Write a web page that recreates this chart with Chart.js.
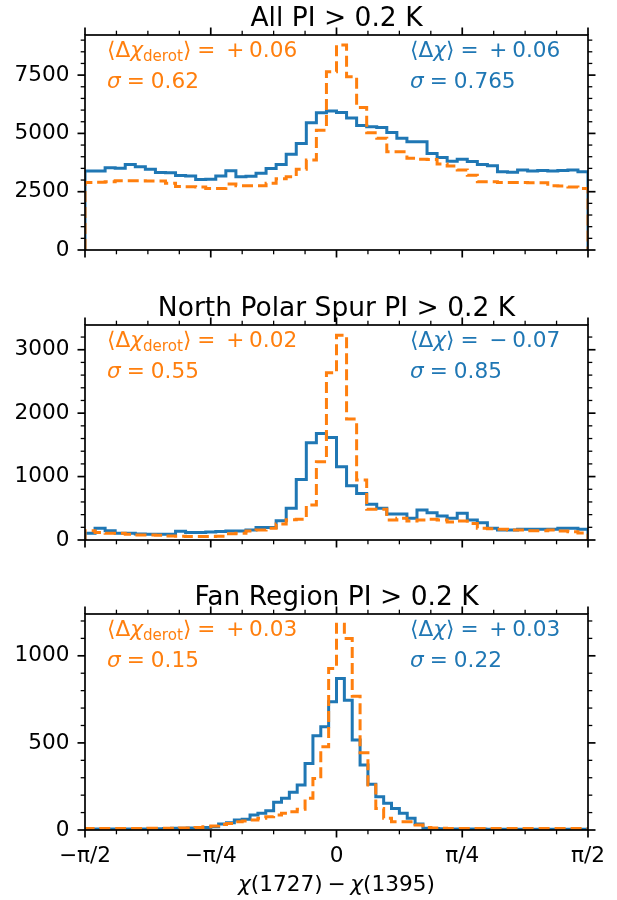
<!DOCTYPE html>
<html><head><meta charset="utf-8">
<script src="https://cdn.jsdelivr.net/npm/chart.js@4.4.1/dist/chart.umd.min.js"></script>
<style>
html,body{margin:0;padding:0;background:#fff;}
#wrap{position:relative;width:617px;height:900px;overflow:hidden;}
canvas{position:absolute;left:0;}
</style>
</head><body>
<div id="wrap">
<canvas id="c1" width="617" height="290" style="top:0px"></canvas>
<canvas id="c2" width="617" height="290" style="top:290px"></canvas>
<canvas id="c3" width="617" height="320" style="top:580px"></canvas>
</div>
<script>
// ---------------- data ----------------
const TITLES = ['All PI > 0.2 K', 'North Polar Spur PI > 0.2 K', 'Fan Region PI > 0.2 K'];
const BIN_COUNTS = [50, 50, 64];

// Panel 1: All PI > 0.2 K
const BLUE_ALL = [3390, 3390, 3530, 3510, 3670, 3570, 3460, 3320, 3310, 3200,
                  3170, 3020, 3030, 3170, 3400, 3140, 3160, 3290, 3500, 3670,
                  4110, 4570, 5460, 5890, 5960, 5900, 5660, 5340, 5290, 5250,
                  5040, 4790, 4640, 4640, 4140, 3970, 3810, 3890, 3790, 3670,
                  3610, 3360, 3330, 3430, 3390, 3410, 3390, 3410, 3430, 3360];
const ORANGE_ALL = [2900, 2910, 2930, 2970, 2970, 2970, 2960, 2960, 2860, 2720,
                    2710, 2700, 2640, 2640, 2830, 2760, 2760, 2760, 2860, 3060,
                    3140, 3460, 3860, 5140, 7640, 8790, 7430, 6110, 5030, 4790,
                    4210, 4210, 3930, 3890, 3880, 3690, 3600, 3430, 3210, 2930,
                    2930, 2890, 2890, 2890, 2880, 2880, 2750, 2740, 2700, 2640];

// Panel 2: North Polar Spur
const BLUE_NPS = [105, 184, 147, 105, 105, 95, 90, 90, 90, 136,
                  120, 120, 125, 135, 140, 140, 157, 199, 199, 304,
                  499, 955, 1533, 1680, 1617, 1155, 856, 735, 562, 499,
                  409, 409, 341, 472, 430, 378, 341, 420, 315, 273,
                  184, 157, 157, 168, 168, 168, 168, 184, 184, 168];
const ORANGE_NPS = [147, 120, 105, 105, 90, 80, 80, 75, 65, 60,
                    55, 55, 55, 60, 100, 105, 140, 157, 185, 252,
                    320, 326, 551, 1234, 2636, 3229, 1906, 945, 483, 483,
                    315, 341, 299, 315, 326, 315, 283, 299, 262, 184,
                    178, 168, 157, 157, 147, 147, 157, 142, 131, 110];

// Panel 3: Fan Region
const BLUE_FAN = [6, 6, 6, 6, 6, 6, 6, 6, 7, 7,
                  8, 10, 10, 11, 11, 15, 19, 34, 42, 57,
                  61, 86, 96, 111, 159, 182, 216, 258, 382, 541,
                  593, 736, 870, 745, 516, 373, 262, 191, 153, 124,
                  96, 67, 34, 10, 8, 7, 6, 6, 6, 6,
                  6, 5, 5, 5, 5, 5, 5, 5, 5, 5,
                  5, 5, 5, 5];
const ORANGE_FAN = [8, 8, 9, 8, 8, 9, 9, 9, 10, 10,
                    10, 10, 11, 11, 15, 19, 23, 32, 38, 48,
                    52, 57, 67, 76, 86, 96, 105, 119, 182, 296,
                    478, 927, 1181, 1099, 768, 443, 258, 124, 67, 48,
                    48, 48, 29, 15, 12, 10, 9, 9, 9, 8,
                    8, 8, 8, 8, 8, 8, 8, 8, 8, 8,
                    8, 8, 8, 8];

const BLUE_SERIES = [BLUE_ALL, BLUE_NPS, BLUE_FAN];
const ORANGE_SERIES = [ORANGE_ALL, ORANGE_NPS, ORANGE_FAN];

const MEAN_DEROT = ['+ 0.06', '+ 0.02', '+ 0.03'];
const SIGMA_DEROT = ['0.62', '0.55', '0.15'];
const MEAN_RAW = ['+ 0.06', '\u2212 0.07', '+ 0.03'];
const SIGMA_RAW = ['0.765', '0.85', '0.22'];

const Y_MAX = [9220, 3390, 1240];
const Y_MAJOR_TICKS = [[0, 2500, 5000, 7500], [0, 1000, 2000, 3000], [0, 500, 1000]];
const Y_MINOR_STEP = [500, 200, 100];
const X_TICK_VALUES = [-Math.PI / 2, -Math.PI / 4, 0, Math.PI / 4, Math.PI / 2];
const X_TICK_LABELS = ['\u2212\u03c0/2', '\u2212\u03c0/4', '0', '\u03c0/4', '\u03c0/2'];
const X_MINOR_STEP = Math.PI / 16;
const X_LABEL = [{t: '\u03c7', it: true}, {t: '(1727)'}, {gap: 0.222}, {t: '\u2212'}, {gap: 0.222}, {t: '\u03c7', it: true}, {t: '(1395)'}];

// ---------------- style ----------------
const BLUE = '#1f77b4';
const ORANGE = '#ff7f0e';
const FONT = '"DejaVu Sans"';
const TICK_FS = 21.6;
const TITLE_FS = 26.5;

function drawRich(ctx, x, y, parts, color, size) {
  ctx.fillStyle = color;
  ctx.textAlign = 'left';
  ctx.textBaseline = 'alphabetic';
  let cx = x;
  for (const p of parts) {
    if (p.gap) { cx += p.gap * size; continue; }
    const s = p.sub ? size * 0.7 : size;
    ctx.font = (p.it ? 'italic ' : '') + s + 'px ' + FONT;
    ctx.fillText(p.t, cx, y + (p.sub ? size * 0.22 : 0));
    cx += ctx.measureText(p.t).width;
  }
  return cx - x;
}

function edgesFor(n) {
  const e = [];
  for (let i = 0; i <= n; i++) e.push(-Math.PI / 2 + i * Math.PI / n);
  return e;
}

function histPoints(vals, edges) {
  const n = vals.length;
  const pts = [{x: edges[0], y: 0}];
  for (let i = 0; i < n; i++) pts.push({x: edges[i], y: vals[i]});
  pts.push({x: edges[n], y: vals[n - 1]});
  pts.push({x: edges[n], y: 0});
  return pts;
}

function makeDeco(k) {
  return {
    id: 'deco' + k,
    afterDraw(chart) {
      const ctx = chart.ctx;
      const a = chart.chartArea;
      const xs = chart.scales.x, ys = chart.scales.y;
      ctx.save();
      const line = (x1, y1, x2, y2, w) => {
        ctx.lineWidth = w; ctx.beginPath(); ctx.moveTo(x1, y1); ctx.lineTo(x2, y2); ctx.stroke();
      };
      ctx.strokeStyle = '#000';
      ctx.lineCap = 'butt';
      for (let v = -Math.PI / 2; v <= Math.PI / 2 + 1e-9; v += X_MINOR_STEP) {
        const isMajor = X_TICK_VALUES.some(m => Math.abs(m - v) < 1e-6);
        const L = isMajor ? 7.5 : 4.3, W = isMajor ? 1.7 : 1.3;
        const px = xs.getPixelForValue(v);
        line(px, a.bottom, px, a.bottom + L, W);
        line(px, a.top, px, a.top - L, W);
      }
      const majors = Y_MAJOR_TICKS[k];
      for (let v = 0; v <= Y_MAX[k] + 1e-9; v += Y_MINOR_STEP[k]) {
        const isMajor = majors.includes(v);
        const L = isMajor ? 7.5 : 4.3, W = isMajor ? 1.7 : 1.3;
        const py = ys.getPixelForValue(v);
        line(a.left, py, a.left - L, py, W);
        line(a.right, py, a.right + L, py, W);
      }
      ctx.lineWidth = 1.7;
      ctx.strokeRect(a.left, a.top, a.right - a.left, a.bottom - a.top);
      ctx.fillStyle = '#000';
      ctx.font = TITLE_FS + 'px ' + FONT;
      ctx.textAlign = 'center';
      ctx.textBaseline = 'alphabetic';
      ctx.fillText(TITLES[k], (a.left + a.right) / 2, a.top - 9.5);
      const fs = TICK_FS;
      const ox = a.left + 22, bx = a.left + 325;
      const y1 = a.top + 21.7, y2 = a.top + 53.3;
      drawRich(ctx, ox, y1, [{t: '\u27e8\u0394'}, {t: '\u03c7', it: true}, {t: 'derot', sub: true}, {t: '\u27e9'}, {gap: 0.278}, {t: '='}, {gap: 0.5}, {t: MEAN_DEROT[k].slice(0, 1)}, {gap: 0.222}, {t: MEAN_DEROT[k].slice(2)}], ORANGE, fs);
      drawRich(ctx, ox, y2, [{t: '\u03c3', it: true}, {gap: 0.278}, {t: '='}, {gap: 0.278}, {t: SIGMA_DEROT[k]}], ORANGE, fs);
      drawRich(ctx, bx, y1, [{t: '\u27e8\u0394'}, {t: '\u03c7', it: true}, {t: '\u27e9'}, {gap: 0.278}, {t: '='}, {gap: 0.5}, {t: MEAN_RAW[k].slice(0, 1)}, {gap: 0.222}, {t: MEAN_RAW[k].slice(2)}], BLUE, fs);
      drawRich(ctx, bx, y2, [{t: '\u03c3', it: true}, {gap: 0.278}, {t: '='}, {gap: 0.278}, {t: SIGMA_RAW[k]}], BLUE, fs);
      if (k === 2) {
        let w = 0;
        for (const p of X_LABEL) {
          if (p.gap) { w += p.gap * fs; continue; }
          ctx.font = (p.it ? 'italic ' : '') + fs + 'px ' + FONT;
          w += ctx.measureText(p.t).width;
        }
        drawRich(ctx, (a.left + a.right) / 2 - w / 2, a.bottom + 61, X_LABEL, '#000', fs);
      }
      ctx.restore();
    }
  };
}

function makeChart(k) {
  const canvasId = ['c1', 'c2', 'c3'][k];
  const edges = edgesFor(BIN_COUNTS[k]);
  const isBottom = k === 2;
  const pad = [{top: 35, right: 29, bottom: 40, left: 0},
               {top: 35, right: 29, bottom: 40, left: 0},
               {top: 34, right: 29, bottom: 0, left: 0}][k];
  return new Chart(document.getElementById(canvasId), {
    type: 'line',
    data: {
      datasets: [
        {
          label: 'derotated',
          data: histPoints(ORANGE_SERIES[k], edges),
          borderColor: ORANGE, borderWidth: 3, borderDash: [11, 5],
          pointRadius: 0, fill: false, stepped: true, tension: 0,
          borderCapStyle: 'butt', borderJoinStyle: 'miter'
        },
        {
          label: 'raw',
          data: histPoints(BLUE_SERIES[k], edges),
          borderColor: BLUE, borderWidth: 3,
          pointRadius: 0, fill: false, stepped: true, tension: 0,
          borderCapStyle: 'butt', borderJoinStyle: 'miter'
        }
      ]
    },
    options: {
      responsive: false,
      animation: false,
      devicePixelRatio: 1,
      events: [],
      layout: {padding: pad},
      plugins: {legend: {display: false}, tooltip: {enabled: false}, title: {display: false}},
      scales: {
        x: {
          type: 'linear',
          min: -Math.PI / 2, max: Math.PI / 2,
          display: isBottom,
          grid: {display: false, drawTicks: true, tickLength: 7.5},
          border: {display: false},
          ticks: {
            autoSkip: false, maxRotation: 0, padding: 6,
            color: '#000', font: {family: 'DejaVu Sans', size: TICK_FS},
            callback: (v, i) => X_TICK_LABELS[i]
          },
          afterBuildTicks: s => { s.ticks = X_TICK_VALUES.map(v => ({value: v})); },
          afterFit: s => { s.height = isBottom ? 70 : 0; }
        },
        y: {
          type: 'linear',
          min: 0, max: Y_MAX[k],
          position: 'left',
          grid: {display: false, drawTicks: true, tickLength: 7.5},
          border: {display: false},
          ticks: {
            autoSkip: false, padding: 8,
            color: '#000', font: {family: 'DejaVu Sans', size: TICK_FS},
            callback: v => String(v)
          },
          afterBuildTicks: s => { s.ticks = Y_MAJOR_TICKS[k].map(v => ({value: v})); },
          afterFit: s => { s.width = 85; }
        }
      }
    },
    plugins: [makeDeco(k)]
  });
}

[0, 1, 2].forEach(makeChart);
</script>
</body></html>
